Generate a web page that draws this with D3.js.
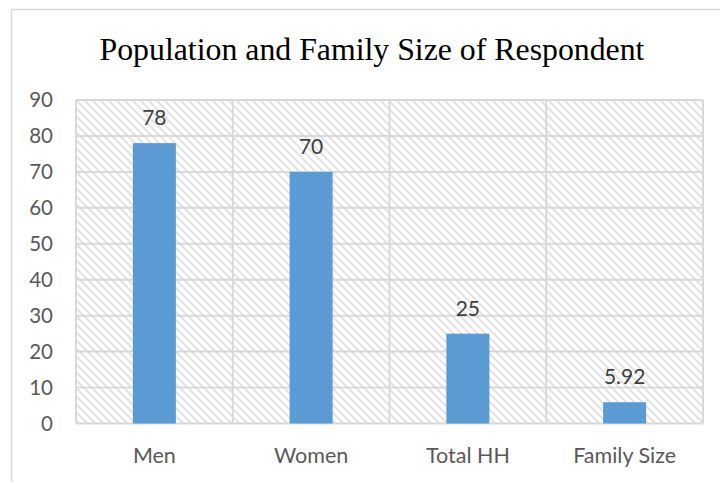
<!DOCTYPE html>
<html><head><meta charset="utf-8">
<script src="https://cdn.jsdelivr.net/npm/d3@7"></script>
<style>body{margin:0;background:#fff}svg{display:block}</style>
</head><body>
<svg id="c" width="720" height="482"></svg>
<script>
const categories = ["Men", "Women", "Total HH", "Family Size"];
const values = [78, 70, 25, 5.92];
const valueLabels = ["78", "70", "25", "5.92"];
const yTicks = [0, 10, 20, 30, 40, 50, 60, 70, 80, 90];
const title = "Population and Family Size of Respondent";

const svg = d3.select("#c");
const m = {left: 76, right: 703, top: 100, bottom: 423.5};
const FONT = "Lato, 'Open Sans', sans-serif";

// chart area border
svg.append("rect").attr("x", 11.5).attr("y", 9.5).attr("width", 760).attr("height", 520)
  .attr("fill", "#fff").attr("stroke", "#d9d9d9").attr("stroke-width", 1.5);

const defs = svg.append("defs");
const pat = defs.append("pattern").attr("id", "hatch").attr("patternUnits", "userSpaceOnUse")
  .attr("width", 8).attr("height", 8);
pat.append("rect").attr("width", 8).attr("height", 8).attr("fill", "#fff");
pat.append("path").attr("d", "M-2,-2 L10,10 M-2,6 L2,10 M6,-2 L10,2")
  .attr("stroke", "#e3e3e3").attr("stroke-width", 2);

const x = d3.scaleBand().domain(categories).range([m.left, m.right]).paddingInner(0).paddingOuter(0);
const y = d3.scaleLinear().domain([0, 90]).range([m.bottom, m.top]);

svg.append("rect").attr("x", m.left).attr("y", m.top).attr("width", m.right - m.left)
  .attr("height", m.bottom - m.top).attr("fill", "url(#hatch)");

// horizontal gridlines
svg.append("g").selectAll("line").data(yTicks).join("line")
  .attr("x1", m.left).attr("x2", m.right).attr("y1", d => y(d)).attr("y2", d => y(d))
  .attr("stroke", "#d9d9d9").attr("stroke-width", 2);
// vertical gridlines
const bounds = categories.map(c => x(c)).concat([m.right]);
svg.append("g").selectAll("line").data(bounds).join("line")
  .attr("x1", d => d).attr("x2", d => d).attr("y1", m.top).attr("y2", m.bottom)
  .attr("stroke", "#d9d9d9").attr("stroke-width", 2);

// y axis
const yAxis = d3.axisLeft(y).tickValues(yTicks).tickSize(0).tickPadding(23);
const ga = svg.append("g").attr("transform", `translate(${m.left},0)`).call(yAxis);
ga.select(".domain").remove();
ga.selectAll("text").attr("font-family", FONT).attr("font-size", 20.5)
  .attr("fill", "#595959");

// x axis
const xAxis = d3.axisBottom(x).tickSize(0).tickPadding(24.5);
const gx = svg.append("g").attr("transform", `translate(0,${m.bottom})`).call(xAxis);
gx.select(".domain").remove();
gx.selectAll("text").attr("font-family", FONT).attr("font-size", 21.5)
  .attr("fill", "#595959");

const bw = 43;
svg.append("g").selectAll("rect").data(values).join("rect")
  .attr("x", (d, i) => x(categories[i]) + x.bandwidth() / 2 - bw / 2)
  .attr("width", bw)
  .attr("y", d => y(d)).attr("height", d => y(0) - y(d))
  .attr("fill", "#5b9bd5");

svg.append("g").selectAll("text").data(values).join("text")
  .attr("x", (d, i) => x(categories[i]) + x.bandwidth() / 2)
  .attr("y", d => y(d) - 18)
  .attr("text-anchor", "middle")
  .attr("font-family", FONT).attr("font-size", 21)
  .attr("fill", "#404040")
  .text((d, i) => valueLabels[i]);

svg.append("text").attr("x", 372).attr("y", 60).attr("text-anchor", "middle")
  .attr("font-family", "'Liberation Serif', 'Times New Roman', serif").attr("font-size", 31.8)
  .attr("fill", "#000").text(title);
</script>
</body></html>
